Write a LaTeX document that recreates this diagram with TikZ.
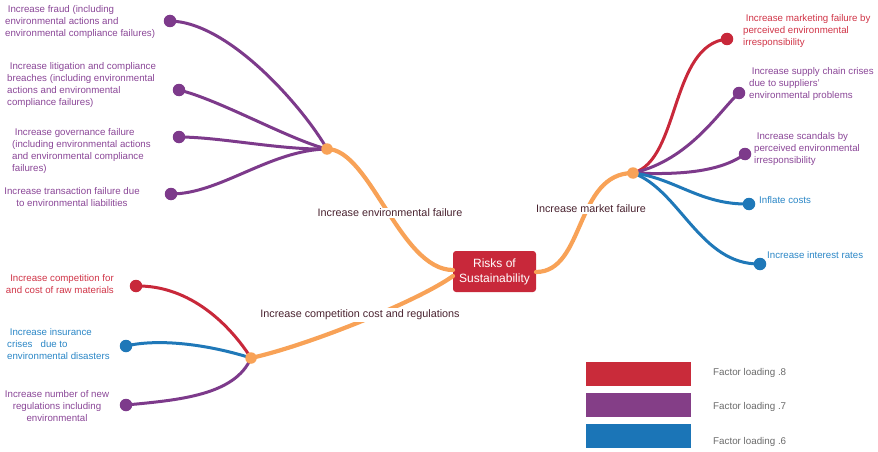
\documentclass[tikz,border=0pt]{standalone}
\usepackage{fontspec}
\setmainfont{Liberation Sans}
\begin{document}
\begin{tikzpicture}[x=1pt,y=-1pt,
  line cap=round,
  trunk/.style={draw=orangeC, line width=4.2pt},
  branch/.style={draw=#1, line width=3pt},
  enddot/.style={circle, fill=#1, inner sep=0pt, minimum size=12.5pt},
  hubdot/.style={circle, fill=orangeC, inner sep=0pt, minimum size=11.5pt},
  small/.style={inner sep=0pt, font=\fontsize{9.7}{12}\selectfont},
  hublabel/.style={fill=white, inner sep=1.5pt, text=hubtext, font=\fontsize{10.8}{13}\selectfont},
  legbox/.style={fill=#1, minimum width=105pt, minimum height=24pt, inner sep=0pt},
  legtext/.style={inner sep=0pt, text=legendgray, anchor=west, font=\fontsize{9.8}{12}\selectfont}
]
\definecolor{orangeC}{HTML}{F8A257}
\definecolor{redC}{HTML}{C8283A}
\definecolor{purpleC}{HTML}{7D3A8B}
\definecolor{blueC}{HTML}{1F78B8}
\definecolor{redT}{HTML}{D03447}
\definecolor{purpleT}{HTML}{8A4697}
\definecolor{blueT}{HTML}{2A86C6}
\definecolor{hubtext}{HTML}{4A2330}
\definecolor{legendgray}{HTML}{6A6A6A}
\definecolor{legRed}{HTML}{C92B3A}
\definecolor{legPurple}{HTML}{843E87}
\definecolor{legBlue}{HTML}{1B75B7}

\useasboundingbox (0,0) rectangle (878,452);

% centre box
\node[fill=redC, rounded corners=3pt, minimum width=83pt, minimum height=41pt, inner sep=0pt,
      text=white, align=center, font=\fontsize{12}{15}\selectfont] (root) at (494.5,271.5) {Risks of\\Sustainability};

% coordinates
\coordinate (h1) at (327,149);
\coordinate (h2) at (633,173);
\coordinate (h3) at (251,358);
\coordinate (rootL) at (453,270);
\coordinate (rootL2) at (453,276);
\coordinate (rootR) at (536,272);

\coordinate (a1) at (170,21);
\coordinate (a2) at (179,90);
\coordinate (a3) at (179,137);
\coordinate (a4) at (171,194);

\coordinate (b1) at (727,39);
\coordinate (b2) at (739,93);
\coordinate (b3) at (745,154);
\coordinate (b4) at (749,204);
\coordinate (b5) at (760,264);

\coordinate (c1) at (136,286);
\coordinate (c2) at (126,346);
\coordinate (c3) at (126,405);

% trunks
\draw[trunk] (rootL) .. controls (400,270) and (370,149) .. (h1);
\draw[trunk] (rootR) .. controls (585,272) and (575,173) .. (h2);
\draw[trunk] (rootL2) .. controls (420,300) and (310,345) .. (h3);

% branches hub 1
\draw[branch=purpleC] (h1) .. controls (305,110) and (230,22) .. (a1);
\draw[branch=purpleC] (h1) .. controls (290,140) and (220,100) .. (a2);
\draw[branch=purpleC] (h1) .. controls (280,150) and (220,137) .. (a3);
\draw[branch=purpleC] (h1) .. controls (270,150) and (220,194) .. (a4);

% branches hub 2
\draw[branch=redC] (h2) .. controls (680,160) and (670,45) .. (b1);
\draw[branch=purpleC] (h2) .. controls (690,160) and (720,110) .. (b2);
\draw[branch=purpleC] (h2) .. controls (680,175) and (720,172) .. (b3);
\draw[branch=blueC] (h2) .. controls (675,178) and (700,205) .. (b4);
\draw[branch=blueC] (h2) .. controls (680,190) and (700,265) .. (b5);

% branches hub 3
\draw[branch=redC] (h3) .. controls (230,325) and (190,285) .. (c1);
\draw[branch=blueC] (h3) .. controls (210,345) and (160,338) .. (c2);
\draw[branch=purpleC] (h3) .. controls (235,395) and (180,400) .. (c3);

% dots
\node[hubdot] (h1dot) at (h1) {};
\node[hubdot] (h2dot) at (h2) {};
\node[hubdot] (h3dot) at (h3) {};
\node[enddot=purpleC] (a1dot) at (a1) {};
\node[enddot=purpleC] (a2dot) at (a2) {};
\node[enddot=purpleC] (a3dot) at (a3) {};
\node[enddot=purpleC] (a4dot) at (a4) {};
\node[enddot=redC] (b1dot) at (b1) {};
\node[enddot=purpleC] (b2dot) at (b2) {};
\node[enddot=purpleC] (b3dot) at (b3) {};
\node[enddot=blueC] (b4dot) at (b4) {};
\node[enddot=blueC] (b5dot) at (b5) {};
\node[enddot=redC] (c1dot) at (c1) {};
\node[enddot=blueC] (c2dot) at (c2) {};
\node[enddot=purpleC] (c3dot) at (c3) {};

% hub labels
\node[hublabel] (l1) at (390,213) {Increase environmental failure};
\node[hublabel] (l2) at (591,209) {Increase market failure};
\node[hublabel] (l3) at (360,315) {Increase competition cost and regulations};

% leaf labels hub 1
\node[small, text=purpleT, align=left, anchor=west] (ta1) at (5,21.5)
  {\ Increase fraud (including\\environmental actions and\\environmental compliance failures)};
\node[small, text=purpleT, align=left, anchor=west] (ta2) at (7,84.5)
  {\ Increase litigation and compliance\\breaches (including environmental\\actions and environmental\\compliance failures)};
\node[small, text=purpleT, align=left, anchor=west] (ta3) at (12,151)
  {\ Increase governance failure\\(including environmental actions\\and environmental compliance\\failures)};
\node[small, text=purpleT, align=center] (ta4) at (72,197)
  {Increase transaction failure due\\to environmental liabilities};

% leaf labels hub 2
\node[small, text=redT, align=left, anchor=west] (tb1) at (743,30.5)
  {\ Increase marketing failure by\\perceived environmental\\irresponsibility};
\node[small, text=purpleT, align=left, anchor=west] (tb2) at (749,83.5)
  {\ Increase supply chain crises\\due to suppliers'\\environmental problems};
\node[small, text=purpleT, align=left, anchor=west] (tb3) at (754,149)
  {\ Increase scandals by\\perceived environmental\\irresponsibility};
\node[small, text=blueT, anchor=west] (tb4) at (759,200) {Inflate costs};
\node[small, text=blueT, anchor=west] (tb5) at (767,255) {Increase interest rates};

% leaf labels hub 3
\node[small, text=redT, align=right, anchor=east] (tc1) at (114,284.5)
  {Increase competition for\\and cost of raw materials};
\node[small, text=blueT, align=left, anchor=west] (tc2) at (7,344)
  {\ Increase insurance\\crises\ \ \ due to\\environmental disasters};
\node[small, text=purpleT, align=center] (tc3) at (57,406)
  {Increase number of new\\regulations including\\environmental};

% legend
\node[legbox=legRed] (k1) at (638.5,374) {};
\node[legbox=legPurple] (k2) at (638.5,405) {};
\node[legbox=legBlue] (k3) at (638.5,436) {};
\node[legtext] (k1t) at (713,373) {Factor loading .8};
\node[legtext] (k2t) at (713,407) {Factor loading .7};
\node[legtext] (k3t) at (713,442) {Factor loading .6};
\end{tikzpicture}
\end{document}
